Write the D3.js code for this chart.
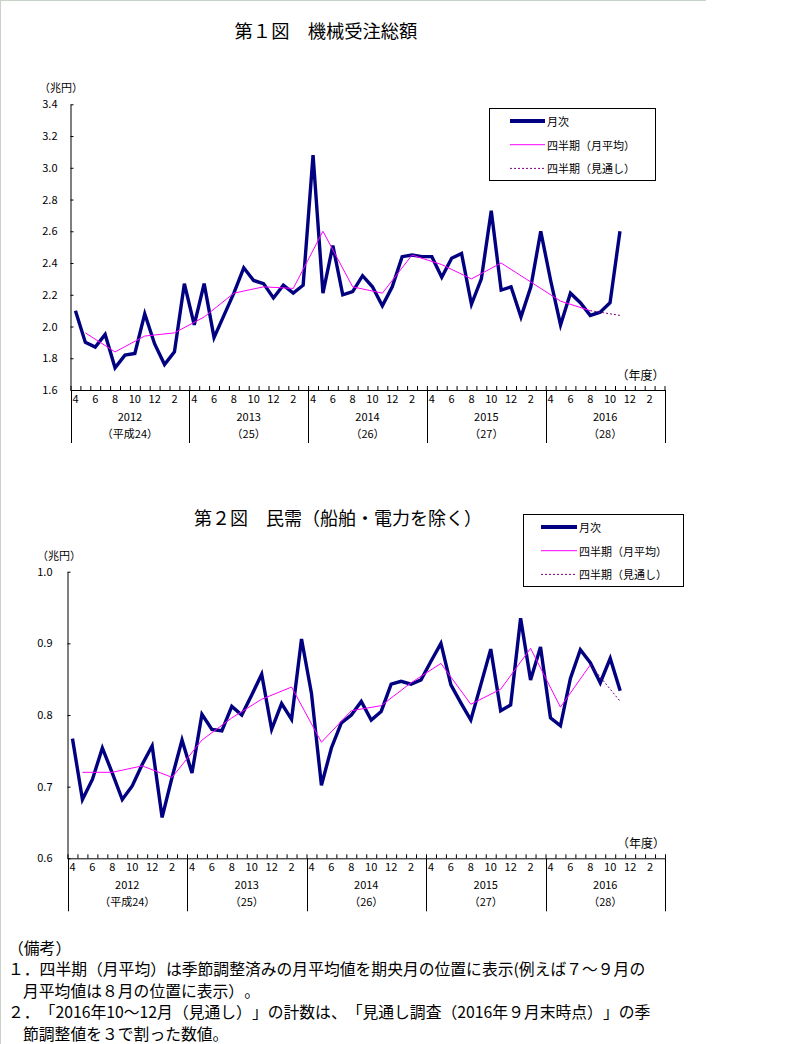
<!DOCTYPE html>
<html><head><meta charset="utf-8">
<script src="https://cdn.jsdelivr.net/npm/d3@7"></script>
<style>
body{margin:0;background:#fff;}
svg{display:block;font-family:"Noto Sans CJK JP","Noto Sans",sans-serif;}
svg text{font-feature-settings:"chws" 0, "halt" 0, "palt" 0;text-spacing-trim:space-all;font-kerning:none;}
</style></head>
<body>
<svg id="c" width="812" height="1044"></svg>
<script>
// ---- data ----
const monthTickLabels = ["4","6","8","10","12","2"];
const monthTickOffsets = [0,2,4,6,8,10];
const fiscalYears = ["2012","2013","2014","2015","2016"];
const heiseiLabels = ["（平成24）","（25）","（26）","（27）","（28）"];

const totalMonthly = [2.10,1.90,1.87,1.95,1.74,1.82,1.83,2.08,1.89,1.76,1.84,2.27,
 2.01,2.27,1.93,2.07,2.21,2.37,2.29,2.27,2.18,2.26,2.21,2.26,
 3.08,2.21,2.51,2.20,2.22,2.32,2.25,2.13,2.25,2.44,2.45,2.44,
 2.44,2.31,2.43,2.46,2.14,2.30,2.73,2.23,2.25,2.06,2.25,2.60,
 2.29,2.01,2.21,2.15,2.07,2.09,2.15,2.60];
const totalQuarterly = [1.96,1.84,1.94,1.96,2.06,2.21,2.25,2.24,2.60,2.25,2.21,2.45,2.39,2.30,2.40,2.28,2.16,2.10];
const totalForecast = [2.10,2.07];
const totalTicks = [1.6,1.8,2.0,2.2,2.4,2.6,2.8,3.0,3.2,3.4];

const privMonthly = [0.767,0.682,0.710,0.754,0.719,0.682,0.701,0.731,0.757,0.657,0.713,0.765,
 0.719,0.801,0.780,0.778,0.812,0.800,0.828,0.857,0.780,0.816,0.794,0.906,
 0.830,0.702,0.754,0.789,0.800,0.819,0.793,0.805,0.843,0.847,0.843,0.849,
 0.875,0.900,0.842,0.817,0.793,0.842,0.892,0.806,0.814,0.935,0.849,0.895,
 0.796,0.785,0.851,0.891,0.873,0.845,0.879,0.834];
const privQuarterly = [0.720,0.720,0.729,0.713,0.765,0.796,0.822,0.839,0.762,0.806,0.813,0.845,0.872,0.815,0.836,0.893,0.811,0.870];
const privForecast = [0.870,0.819];
const privTicks = [0.6,0.7,0.8,0.9,1.0];

const legendLabels = ["月次","四半期（月平均）","四半期（見通し）"];
const titles = ["第１図　機械受注総額","第２図　民需（船舶・電力を除く）"];
const notes = ["（備考）",
 "１．四半期（月平均）は季節調整済みの月平均値を期央月の位置に表示(例えば７～９月の",
 "月平均値は８月の位置に表示）。",
 "２．「2016年10～12月（見通し）」の計数は、「見通し調査（2016年９月末時点）」の季",
 "節調整値を３で割った数値。"];

const NAVY="#000080", MAG="#ff00ff", PURP="#800080";
const svg = d3.select("#c");

// frame
svg.append("line").attr("x1",0).attr("x2",706).attr("y1",0.5).attr("y2",0.5).attr("stroke","#c8d2c8");
svg.append("line").attr("x1",0.5).attr("x2",0.5).attr("y1",0).attr("y2",1044).attr("stroke","#c8d2c8");

function chart(cfg){
  const g = svg.append("g");
  const x = d3.scaleBand().domain(d3.range(60)).range([cfg.x0,cfg.x1]).paddingInner(0).paddingOuter(0);
  const xl = d3.scaleLinear().domain([0,60]).range([cfg.x0,cfg.x1]);
  const y = d3.scaleLinear().domain(cfg.domain).range([cfg.yb,cfg.yt]);
  const cx = i => x(i) + x.bandwidth()/2;

  // title
  g.append("text").attr("x",cfg.titleX).attr("y",cfg.titleY).attr("text-anchor","middle")
    .attr("dominant-baseline","central").attr("font-size",cfg.titleSize).text(cfg.title);
  // unit
  g.append("text").attr("x",cfg.unitX).attr("y",cfg.yt-17).attr("text-anchor","end")
    .attr("dominant-baseline","central").attr("font-size",11).text("（兆円）");
  g.append("text").attr("x",cfg.x1).attr("y",cfg.yb-16).attr("text-anchor","end")
    .attr("dominant-baseline","central").attr("font-size",12).text("（年度）");

  // y axis
  const ya = g.append("g").attr("transform",`translate(${cfg.x0},0)`)
    .call(d3.axisLeft(y).tickValues(cfg.ticks).tickFormat(d3.format(".1f"))
      .tickSizeInner(-3).tickSizeOuter(0).tickPadding(cfg.tickPad));
  ya.selectAll("text").attr("font-size",11).attr("fill","#000").attr("font-family","Noto Sans CJK JP");
  ya.selectAll("line,path").attr("stroke","#000");

  // x axis (ticks at month boundaries, pointing up)
  const xa = g.append("g").attr("transform",`translate(0,${cfg.yb})`)
    .call(d3.axisBottom(xl).tickValues(d3.range(61)).tickFormat("").tickSizeInner(-4).tickSizeOuter(0));
  xa.selectAll("line,path").attr("stroke","#000");

  // year separators
  g.selectAll(".sep").data(d3.range(6)).enter().append("line")
    .attr("x1",d=>Math.round(xl(d*12))+0.5).attr("x2",d=>Math.round(xl(d*12))+0.5)
    .attr("y1",cfg.yb).attr("y2",cfg.yb+53).attr("stroke","#000");

  // month labels
  fiscalYears.forEach((fy,yi)=>{
    monthTickOffsets.forEach((m,k)=>{
      g.append("text").attr("x",cx(yi*12+m)).attr("y",cfg.yb+8).attr("text-anchor","middle")
        .attr("dominant-baseline","central").attr("font-size",11).text(monthTickLabels[k]);
    });
    const mid = xl(yi*12+6);
    g.append("text").attr("x",mid).attr("y",cfg.yb+26).attr("text-anchor","middle")
      .attr("dominant-baseline","central").attr("font-size",11).text(fy);
    g.append("text").attr("x",mid).attr("y",cfg.yb+43).attr("text-anchor","middle")
      .attr("dominant-baseline","central").attr("font-size",11).text(heiseiLabels[yi]);
  });

  // lines
  const line = d3.line().x(d=>cx(d[0])).y(d=>y(d[1]));
  g.append("path").datum(cfg.monthly.map((v,i)=>[i,v])).attr("d",line)
    .attr("fill","none").attr("stroke",NAVY).attr("stroke-width",3.4).attr("stroke-linejoin","miter");
  g.append("path").datum(cfg.quarterly.map((v,i)=>[1+3*i,v])).attr("d",line)
    .attr("fill","none").attr("stroke",MAG).attr("stroke-width",1);
  const lastQ = 1+3*(cfg.quarterly.length-1);
  g.append("path").datum(cfg.forecast.map((v,i)=>[lastQ+3*i,v])).attr("d",line)
    .attr("fill","none").attr("stroke",PURP).attr("stroke-width",1).attr("stroke-dasharray","2,2");

  // legend
  const L = cfg.legend;
  g.append("rect").attr("x",L.x+0.5).attr("y",L.y+0.5).attr("width",L.w).attr("height",L.h)
    .attr("fill","#fff").attr("stroke","#000");
  const styles = [{c:NAVY,w:4,d:null},{c:MAG,w:1,d:null},{c:PURP,w:1,d:"2,2"}];
  legendLabels.forEach((t,k)=>{
    const ry = L.y + 13 + k*23.7;
    g.append("line").attr("x1",L.x+L.lx0).attr("x2",L.x+L.lx1).attr("y1",ry).attr("y2",ry)
      .attr("stroke",styles[k].c).attr("stroke-width",styles[k].w).attr("stroke-dasharray",styles[k].d);
    g.append("text").attr("x",L.x+L.lx1+2).attr("y",ry).attr("dominant-baseline","central")
      .attr("font-size",11).text(t);
  });
}

chart({x0:70.5,x1:664.5,yb:390,yt:104.3,domain:[1.6,3.4],ticks:totalTicks,tickPad:13,
  monthly:totalMonthly,quarterly:totalQuarterly,forecast:totalForecast,
  title:titles[0],titleX:326,titleY:30,titleSize:18.3,unitX:83,
  legend:{x:489,y:108,w:166,h:72,lx0:21,lx1:56}});

chart({x0:67.5,x1:665,yb:858.3,yt:571.7,domain:[0.6,1.0],ticks:privTicks,tickPad:15,
  monthly:privMonthly,quarterly:privQuarterly,forecast:privForecast,
  title:titles[1],titleX:338,titleY:517,titleSize:18,unitX:81,
  legend:{x:523,y:514,w:160,h:72,lx0:18,lx1:54}});

// notes
const noteX=[8,8,23,8,23], noteY=[947,968,990,1011,1033];
notes.forEach((t,k)=>{
  svg.append("text").attr("x",noteX[k]).attr("y",noteY[k]).attr("dominant-baseline","central")
    .attr("font-size",15.8).text(t);
});
</script>
</body></html>
